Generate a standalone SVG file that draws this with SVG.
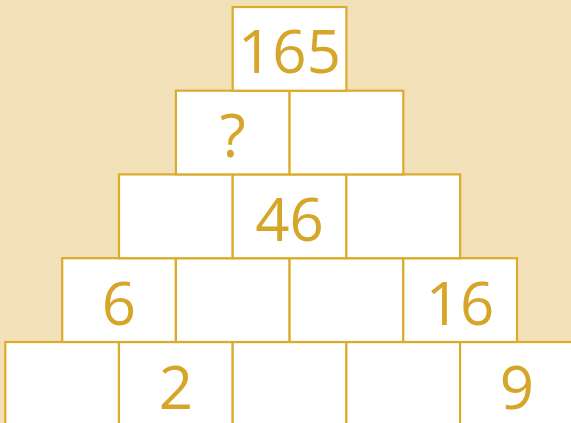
<svg xmlns="http://www.w3.org/2000/svg" width="571" height="423" viewBox="0 0 571 423">
<style>
.b{fill:#ffffff;stroke:#DBAC2C;stroke-width:2.2}
.t{fill:#D6A62A;font-family:"Open Sans","Noto Sans",sans-serif;font-size:60px;text-anchor:middle}
</style>
<rect width="571" height="423" fill="#F2E0B9"/>
<g id="row5">
<rect class="b" x="5.3" y="342" width="113.7" height="100"/>
<rect class="b" x="119" y="342" width="113.7" height="100"/>
<rect class="b" x="232.7" y="342" width="113.7" height="100"/>
<rect class="b" x="346.4" y="342" width="113.7" height="100"/>
<rect class="b" x="460.1" y="342" width="113.7" height="100"/>
</g>
<g id="row4">
<rect class="b" x="62.2" y="258.2" width="113.7" height="83.8"/>
<rect class="b" x="175.9" y="258.2" width="113.7" height="83.8"/>
<rect class="b" x="289.6" y="258.2" width="113.7" height="83.8"/>
<rect class="b" x="403.3" y="258.2" width="113.7" height="83.8"/>
</g>
<g id="row3">
<rect class="b" x="119" y="174.4" width="113.7" height="83.8"/>
<rect class="b" x="232.7" y="174.4" width="113.7" height="83.8"/>
<rect class="b" x="346.4" y="174.4" width="113.7" height="83.8"/>
</g>
<g id="row2">
<rect class="b" x="175.9" y="90.7" width="113.7" height="83.7"/>
<rect class="b" x="289.6" y="90.7" width="113.7" height="83.7"/>
</g>
<g id="row1">
<rect class="b" x="232.7" y="7" width="113.7" height="83.7"/>
</g>
<g id="labels">
<text class="t" x="289.5" y="73">165</text>
<text class="t" x="232.7" y="157">?</text>
<text class="t" x="289.5" y="241">46</text>
<text class="t" x="119" y="325">6</text>
<text class="t" x="460.1" y="325">16</text>
<text class="t" x="175.9" y="409">2</text>
<text class="t" x="517" y="409">9</text>
</g>
</svg>
